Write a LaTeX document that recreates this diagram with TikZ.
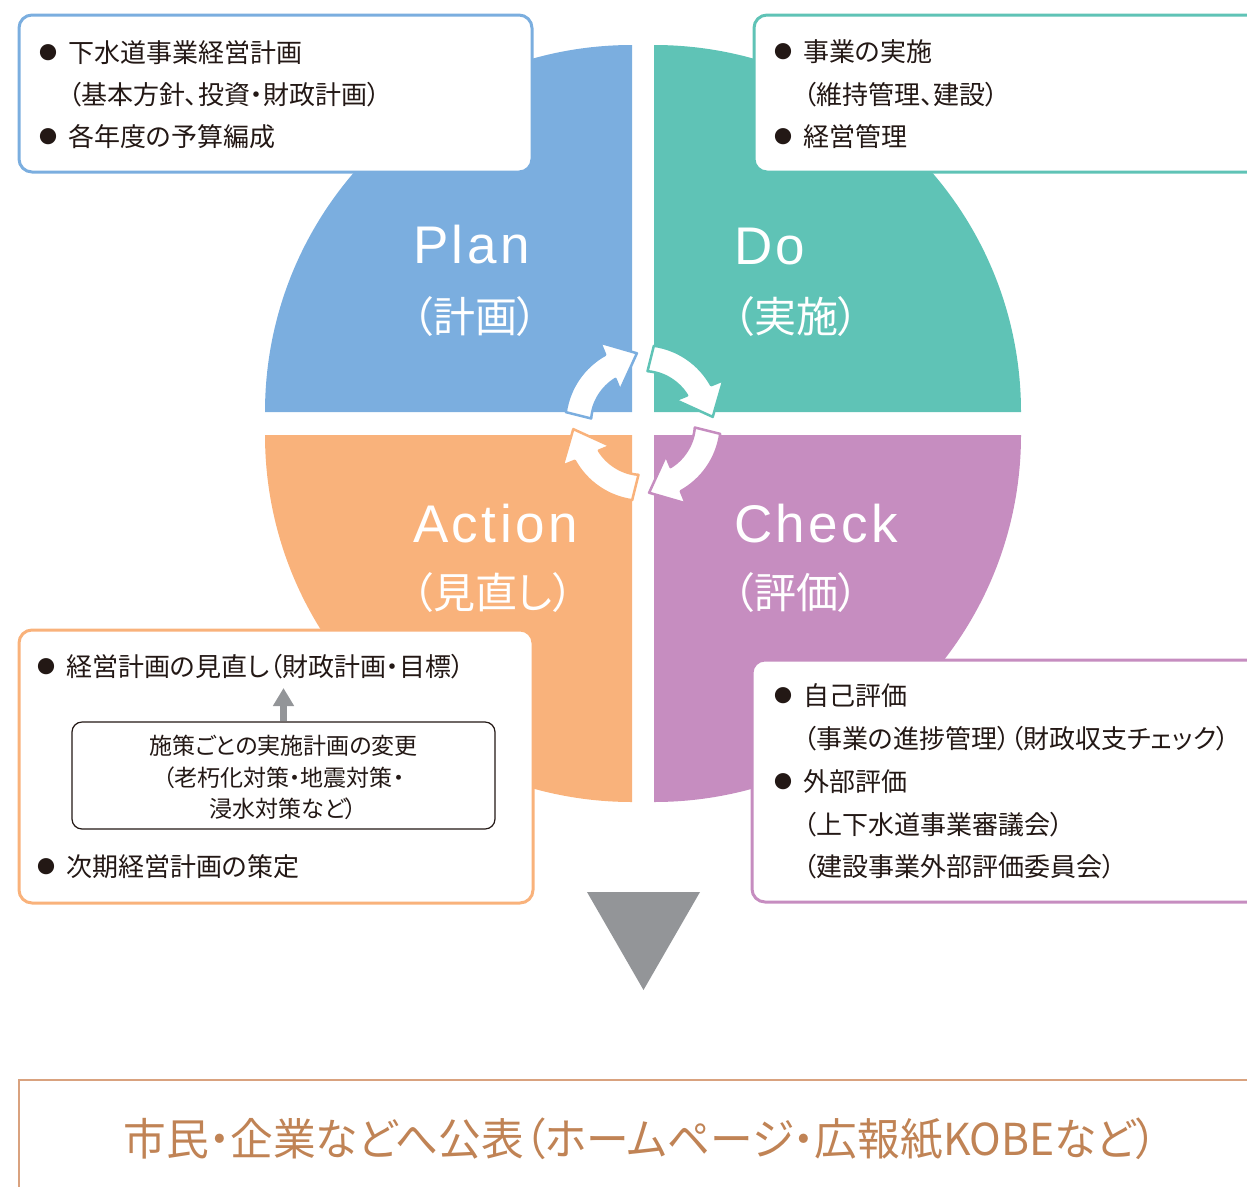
\documentclass[tikz,border=0pt]{standalone}
\usepackage{fontspec}
\setmainfont{Noto Sans CJK JP}[RawFeature=+palt]
\newfontfamily\latinlabel{Liberation Sans}[LetterSpace=6.5]
\usetikzlibrary{arrows.meta}
\definecolor{planc}{HTML}{7BAEDF}
\definecolor{doc}{HTML}{5FC3B6}
\definecolor{actc}{HTML}{F9B27B}
\definecolor{chkc}{HTML}{C68DC0}
\definecolor{inkc}{HTML}{231815}
\definecolor{grayc}{HTML}{939598}
\definecolor{pubc}{HTML}{C08355}
\definecolor{publine}{HTML}{D9A27F}
\tikzset{
  infobox/.style={draw, fill=white, rounded corners=13pt, line width=3pt, inner sep=0pt},
  body/.style={font=\fontsize{26pt}{30pt}\selectfont, text=inkc, inner sep=0pt, anchor=base west},
  smallbody/.style={font=\fontsize{23pt}{27pt}\selectfont, text=inkc, inner sep=0pt, anchor=base},
  biglabel/.style={font=\latinlabel\fontsize{53pt}{60pt}\selectfont, text=white, inner sep=0pt, anchor=base west},
  jplabel/.style={font=\fontsize{42pt}{48pt}\selectfont, text=white, inner sep=0pt, anchor=base west},
  cyclearrowstyle/.style={line width=2.5pt, fill=white, line join=round},
}
\newcommand\bul{\makebox[26pt][c]{\raisebox{3pt}{\fontsize{18pt}{18pt}\selectfont ●}}\hspace{7pt}}
\newcommand\cyclearrow[2]{%
  \path[cyclearrowstyle, draw=#2]
    ({172+#1}:78) arc[start angle={172+#1}, end angle={119+#1}, radius=78]
    -- ({118+#1}:91) -- ({95+#1}:70) -- ({125+#1}:40) -- ({122+#1}:52)
    arc[start angle={122+#1}, end angle={175+#1}, radius=52] -- cycle;}
\begin{document}
\begin{tikzpicture}[x=1pt,y=1pt]
\useasboundingbox (0,0) rectangle (1247,-1186);
% quadrants
\fill[planc] (632,-412) -- (265,-412) arc[start angle=180,end angle=90,radius=367] -- cycle;
\fill[doc] (654,-412) -- (654,-45) arc[start angle=90,end angle=0,radius=367] -- cycle;
\fill[actc] (632,-435) -- (265,-435) arc[start angle=180,end angle=270,radius=367] -- cycle;
\fill[chkc] (654,-435) -- (1021,-435) arc[start angle=0,end angle=-90,radius=367] -- cycle;
% cycle arrows
\begin{scope}[shift={(643,-423)}]
\cyclearrow{0}{planc}
\cyclearrow{-90}{doc}
\cyclearrow{-180}{chkc}
\cyclearrow{-270}{actc}
\end{scope}
% labels
\node[biglabel] (planlbl) at (413,-263) {Plan};
\node[jplabel] (planjp) at (412,-332) {（計画）};
\node[biglabel] (dolbl) at (734,-264) {Do};
\node[jplabel] (dojp) at (733,-332) {（実施）};
\node[biglabel] (actlbl) at (413,-542) {Action};
\node[jplabel] (actjp) at (412,-608) {（見直し）};
\node[biglabel] (chklbl) at (734,-542) {Check};
\node[jplabel] (chkjp) at (733,-608) {（評価）};
% boxes
\node[infobox, draw=planc, minimum width=513pt, minimum height=157pt] (planbox) at (275.5,-93.5) {};
\node[infobox, draw=doc, minimum width=520pt, minimum height=157pt] (dobox) at (1014,-93.5) {};
\node[infobox, draw=actc, minimum width=514pt, minimum height=273pt] (actbox) at (276,-766.5) {};
\node[infobox, draw=chkc, minimum width=520pt, minimum height=242pt] (chkbox) at (1012,-781) {};
% plan text
\node[body] (p1) at (35,-62) {\bul 下水道事業経営計画};
\node[body] (p2) at (68,-104) {（基本方針、投資・財政計画）};
\node[body] (p3) at (35,-146) {\bul 各年度の予算編成};
% do text
\node[body] (d1) at (770,-61) {\bul 事業の実施};
\node[body] (d2) at (803,-104) {（維持管理、建設）};
\node[body] (d3) at (770,-146) {\bul 経営管理};
% action text
\node[body] (a1) at (33,-676) {\bul 経営計画の見直し（財政計画・目標）};
\node[draw=inkc, line width=1.2pt, rounded corners=10pt, minimum width=423pt, minimum height=107pt, fill=white, inner sep=0pt] (ibox) at (283.5,-775.5) {};
\node[smallbody] (i1) at (283.5,-754) {施策ごとの実施計画の変更};
\node[smallbody] (i2) at (283.5,-786) {（老朽化対策・地震対策・};
\node[smallbody] (i3) at (283.5,-817) {浸水対策など）};
\coordinate (uptip) at (283.5,-688);
\draw[grayc, line width=7pt, -{Triangle[width=20pt,length=18pt]}] (ibox.north) -- (uptip);
\node[body] (a2) at (33,-876) {\bul 次期経営計画の策定};
% check text
\node[body] (c1) at (770,-705) {\bul 自己評価};
\node[body] (c2) at (803,-748) {（事業の進捗管理）（財政収支チェック）};
\node[body] (c3) at (770,-791) {\bul 外部評価};
\node[body] (c4) at (803,-834) {（上下水道事業審議会）};
\node[body] (c5) at (803,-876) {（建設事業外部評価委員会）};
% down triangle
\fill[grayc] (587,-892) -- (700,-892) -- (643.5,-990) -- cycle;
% publication box
\node[draw=publine, line width=1.5pt, minimum width=1260pt, minimum height=140pt, inner sep=0pt] (pubbox) at (649,-1150) {};
\node[font=\fontsize{44pt}{50pt}\selectfont, text=pubc, inner sep=0pt, anchor=base] (pubtxt) at (640.5,-1155) {\scalebox{0.97}[1]{市民・企業などへ公表（ホームページ・広報紙KOBEなど）}};
\end{tikzpicture}
\end{document}
